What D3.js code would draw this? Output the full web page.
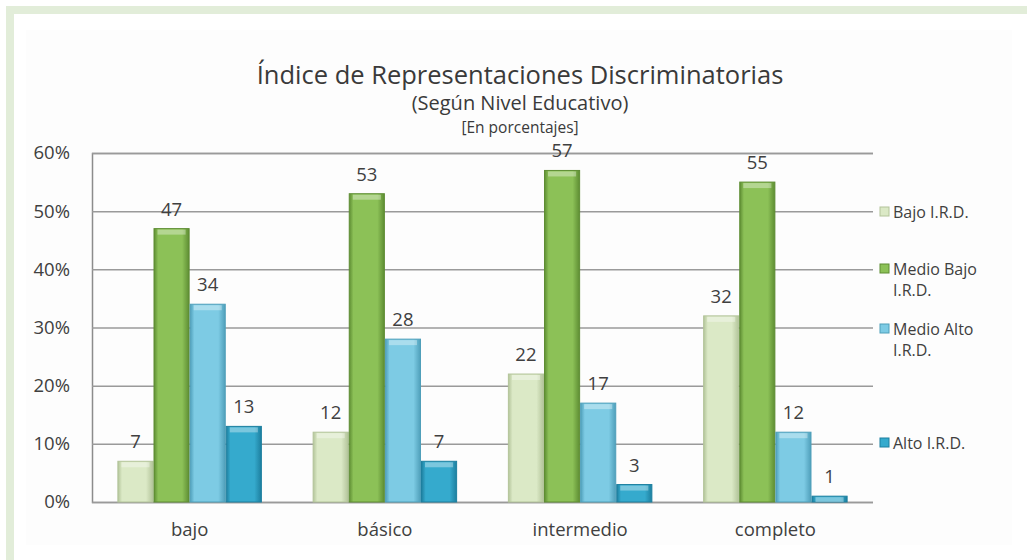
<!DOCTYPE html>
<html>
<head>
<meta charset="utf-8">
<script src="https://cdn.jsdelivr.net/npm/d3@7"></script>
<style>
  body { margin: 0; background: #ffffff; }
  svg { display: block; font-family: "Open Sans", "DejaVu Sans", sans-serif; }
</style>
</head>
<body>
<svg width="1027" height="560"></svg>
<script>
var width = 1027;
var height = 560;

// data
var categories = ["bajo", "básico", "intermedio", "completo"];
var seriesNames = ["Bajo I.R.D.", "Medio Bajo I.R.D.", "Medio Alto I.R.D.", "Alto I.R.D."];
var bajoValues = [7, 12, 22, 32];
var medioBajoValues = [47, 53, 57, 55];
var medioAltoValues = [34, 28, 17, 12];
var altoValues = [13, 7, 3, 1];
var yTicks = [0, 10, 20, 30, 40, 50, 60];

var seriesValues = [bajoValues, medioBajoValues, medioAltoValues, altoValues];
var colors = ["#dbe9c6", "#8cc157", "#7dcbe4", "#35aacd"];
var darkColors = ["#b3c49a", "#5e8d33", "#4f9fba", "#1d7f9f"];
var legendLines = [["Bajo I.R.D."], ["Medio Bajo", "I.R.D."], ["Medio Alto", "I.R.D."], ["Alto I.R.D."]];
var legendY = [218, 275, 335, 449];

var margin = { left: 92, right: 1027 - 873, top: 153, bottom: 560 - 502 };

var chart = d3.select("svg");

// page frame
chart.append("rect").attr("x", 6).attr("y", 6).attr("width", 1021).attr("height", 8).attr("fill", "#e2edd9");
chart.append("rect").attr("x", 6).attr("y", 6).attr("width", 8).attr("height", 554).attr("fill", "#e2edd9");
chart.append("rect").attr("x", 26).attr("y", 30).attr("width", 986).attr("height", 515).attr("fill", "#fdfdfd");

var x0 = d3.scaleBand()
    .domain(categories)
    .range([margin.left, width - margin.right])
    .paddingInner(0.26)
    .paddingOuter(0.13);

var x1 = d3.scaleBand()
    .domain(d3.range(seriesNames.length))
    .range([0, x0.bandwidth()]);

var y = d3.scaleLinear()
    .domain([0, 60])
    .range([height - margin.bottom, margin.top]);

// gradients for the bars
var defs = chart.append("defs");
colors.forEach(function (c, i) {
    var g = defs.append("linearGradient").attr("id", "grad" + i)
        .attr("x1", "0%").attr("x2", "100%").attr("y1", "0%").attr("y2", "0%");
    g.append("stop").attr("offset", "0%").attr("stop-color", darkColors[i]);
    g.append("stop").attr("offset", "12%").attr("stop-color", c);
    g.append("stop").attr("offset", "80%").attr("stop-color", c);
    g.append("stop").attr("offset", "100%").attr("stop-color", darkColors[i]);
});

// titles
chart.append("text")
    .attr("x", 520).attr("y", 84)
    .attr("text-anchor", "middle")
    .attr("font-size", "25.5px")
    .attr("fill", "#3a3a3a")
    .text("Índice de Representaciones Discriminatorias");
chart.append("text")
    .attr("x", 520).attr("y", 110)
    .attr("text-anchor", "middle")
    .attr("font-size", "20px")
    .attr("fill", "#3a3a3a")
    .text("(Según Nivel Educativo)");
chart.append("text")
    .attr("x", 520).attr("y", 133)
    .attr("text-anchor", "middle")
    .attr("font-size", "15.5px")
    .attr("fill", "#3a3a3a")
    .text("[En porcentajes]");

// grid lines
var yAxis = d3.axisLeft(y)
    .tickValues(yTicks)
    .tickSize(-(width - margin.left - margin.right))
    .tickFormat(function (d) { return d + "%"; })
    .tickPadding(22);

var yAxisG = chart.append("g")
    .attr("transform", "translate(" + margin.left + ",0)")
    .call(yAxis);
yAxisG.select(".domain").attr("stroke", "#8c8c8c").attr("stroke-width", 1.5);
yAxisG.selectAll(".tick line").attr("stroke", "#9a9a9a").attr("stroke-width", 1.5);
yAxisG.selectAll(".tick text")
    .attr("font-size", "18.5px")
    .attr("font-family", "'Open Sans', sans-serif")
    .attr("fill", "#404040");

// x axis labels
var xAxis = d3.axisBottom(x0).tickSize(0).tickPadding(21);
var xAxisG = chart.append("g")
    .attr("transform", "translate(0," + (height - margin.bottom) + ")")
    .call(xAxis);
xAxisG.select(".domain").remove();
xAxisG.selectAll(".tick text")
    .attr("font-size", "18.5px")
    .attr("font-family", "'Open Sans', sans-serif")
    .attr("fill", "#404040");

// bars
var groups = chart.selectAll(".grp")
    .data(categories)
    .enter()
    .append("g")
    .attr("class", "grp")
    .attr("transform", function (d) { return "translate(" + x0(d) + ",0)"; });

groups.each(function (cat, ci) {
    var g = d3.select(this);
    seriesValues.forEach(function (vals, si) {
        var v = vals[ci];
        var bx = x1(si);
        var bw = x1.bandwidth();
        g.append("rect")
            .attr("x", bx + 0.5)
            .attr("y", y(v))
            .attr("width", bw - 1)
            .attr("height", y(0) - y(v))
            .attr("fill", "url(#grad" + si + ")")
            .attr("stroke", darkColors[si])
            .attr("stroke-width", 1);
        // light top cap
        g.append("rect")
            .attr("x", bx + 4)
            .attr("y", y(v) + 1)
            .attr("width", bw - 8)
            .attr("height", Math.min(5, y(0) - y(v) - 1))
            .attr("fill", "#ffffff")
            .attr("opacity", 0.35);
        g.append("text")
            .attr("x", bx + bw / 2)
            .attr("y", y(v) - 13)
            .attr("text-anchor", "middle")
            .attr("font-size", "18.5px")
            .attr("fill", "#404040")
            .text(v);
    });
});

// legend
var legend = chart.append("g");
seriesNames.forEach(function (name, i) {
    legend.append("rect")
        .attr("x", 880).attr("y", legendY[i] - 11)
        .attr("width", 9).attr("height", 9)
        .attr("fill", colors[i])
        .attr("stroke", darkColors[i]);
    legendLines[i].forEach(function (line, li) {
        legend.append("text")
            .attr("x", 893)
            .attr("y", legendY[i] + li * 21)
            .attr("font-size", "16px")
            .attr("fill", "#404040")
            .text(line);
    });
});
</script>
</body>
</html>
